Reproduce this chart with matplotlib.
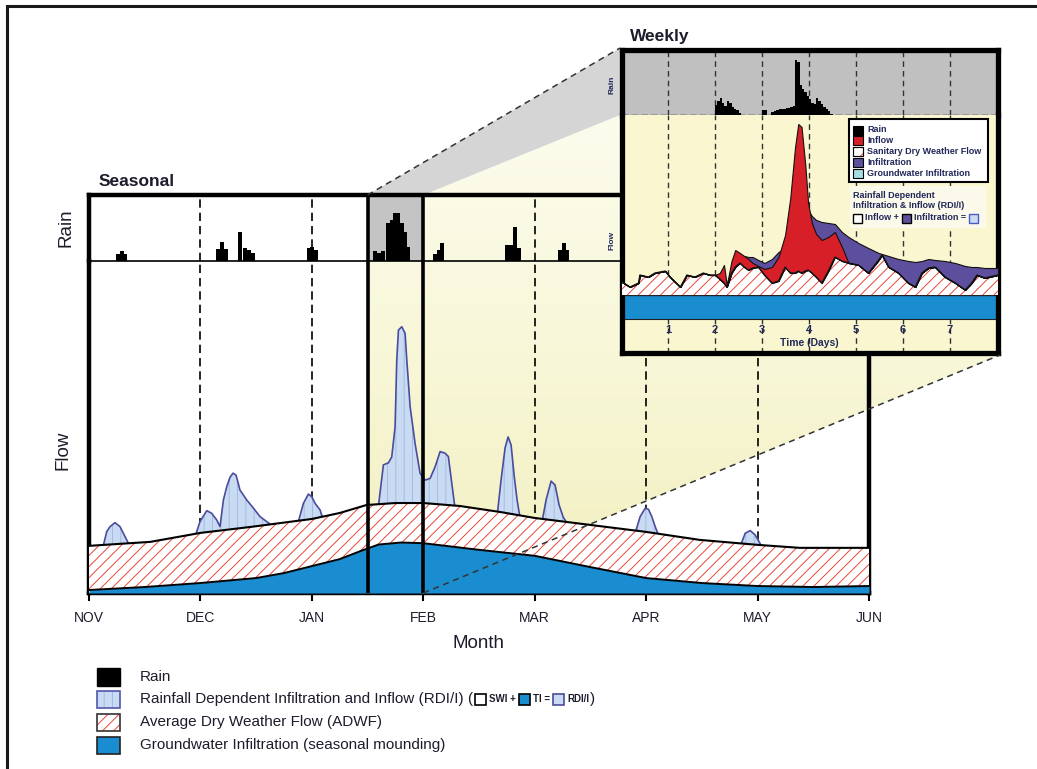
import numpy as np
import matplotlib
matplotlib.use('Agg')
import matplotlib.pyplot as plt
from matplotlib import font_manager as fm
from matplotlib.patches import Rectangle, Polygon
from matplotlib.colors import LinearSegmentedColormap

_names = {f.name for f in fm.fontManager.ttflist}
FONT = 'Liberation Sans Narrow' if 'Liberation Sans Narrow' in _names else 'Liberation Sans'
plt.rcParams['font.family'] = [FONT, 'DejaVu Sans']
plt.rcParams['hatch.linewidth'] = 0.7

# ---------------- DATA ----------------
month_labels = ['NOV', 'DEC', 'JAN', 'FEB', 'MAR', 'APR', 'MAY', 'JUN']

# seasonal rain (months since Nov 1, height)
rain_m = [0.242, 0.274, 0.305,
          1.140, 1.176, 1.212,
          1.338, 1.378, 1.414, 1.450,
          1.952, 1.984, 2.015,
          2.549, 2.585, 2.617,
          2.666, 2.697, 2.729, 2.756, 2.787, 2.814, 2.841,
          3.088, 3.119, 3.151,
          3.734, 3.770, 3.806, 3.837,
          4.210, 4.241, 4.273]
rain_v = [7, 10, 7,
          12, 19, 12,
          29, 13, 11, 8,
          13, 14, 11,
          10, 8, 10,
          38, 41, 48, 48, 38, 29, 14,
          7, 11, 18,
          16, 16, 34, 13,
          11, 18, 11]

# groundwater infiltration (seasonal mounding)
gw_m = [0.0, 0.5, 1.0, 1.5, 1.75, 2.0, 2.25, 2.45, 2.6, 2.8, 3.0, 3.5, 4.0, 4.5, 5.0, 5.5, 6.0, 6.5, 7.0]
gw_v = [0.9, 1.8, 3.0, 4.5, 6.0, 8.1, 10.2, 12.8, 14.6, 15.2, 15.0, 13.0, 11.2, 7.8, 4.5, 3.0, 2.1, 1.8, 2.1]

# average dry weather flow (top of layer)
adwf_m = [0.0, 0.55, 1.0, 1.45, 2.0, 2.25, 2.49, 2.75, 3.0, 3.33, 3.69, 4.0, 4.5, 5.0, 5.48, 6.0, 6.38, 7.0]
adwf_v = [14.2, 15.4, 18.1, 19.9, 22.3, 24.1, 26.5, 27.1, 27.1, 26.2, 24.4, 22.6, 20.5, 18.4, 16.0, 14.5, 13.6, 13.6]

# RDI/I peaks (total flow), NaN separates events
nan = np.nan
rdii_m = [0.123, 0.159, 0.189, 0.233, 0.278, 0.323, 0.368, nan,
          0.952, 0.996, 1.057, 1.101, 1.146, 1.176, 1.206, 1.236, 1.266, 1.293, 1.320, 1.355,
          1.416, 1.475, 1.535, 1.595, 1.655, nan,
          1.879, 1.924, 1.969, 1.999, 2.029, 2.074, 2.103, nan,
          2.597, 2.642, 2.687, 2.717, 2.747, 2.762, 2.777, 2.807, 2.837, 2.852, 2.882, 2.926,
          2.971, 3.016, 3.061, 3.106, 3.151, 3.196, 3.225, 3.256, 3.285, nan,
          3.662, 3.698, 3.734, 3.761, 3.788, 3.815, 3.842, 3.869, nan,
          4.066, 4.102, 4.147, 4.183, 4.219, 4.255, 4.291, nan,
          4.901, 4.946, 4.991, 5.021, 5.051, 5.081, 5.110, nan,
          5.844, 5.889, 5.934, 5.978, 6.038]
rdii_v = [13.5, 18.5, 20.0, 21.2, 20.0, 17.0, 14.0, nan,
          17.0, 21.5, 24.8, 24.0, 22.0, 20.0, 28.0, 32.0, 34.9, 36.1, 35.5, 31.0,
          28.0, 25.6, 23.0, 21.5, 20.0, nan,
          21.5, 27.0, 29.8, 29.0, 27.0, 25.0, 22.0, nan,
          26.0, 38.6, 39.2, 41.0, 50.1, 70.2, 79.2, 80.2, 78.2, 70.2, 56.1, 45.1,
          36.1, 34.0, 34.5, 38.0, 42.6, 42.1, 41.1, 33.0, 25.5, nan,
          23.0, 34.0, 43.7, 47.0, 44.6, 35.5, 28.0, 22.5, nan,
          21.5, 28.0, 33.7, 32.5, 26.5, 22.9, 21.0, nan,
          18.0, 23.0, 25.5, 25.2, 23.0, 20.0, 17.5, nan,
          14.0, 18.0, 18.8, 17.5, 14.0]

# weekly window
week_rain_t = [2.00, 2.05, 2.10, 2.15, 2.20, 2.25, 2.30, 2.35, 2.40, 2.45, 2.50,
               3.00, 3.05,
               3.20, 3.25, 3.30, 3.35, 3.40, 3.45, 3.50, 3.55, 3.60, 3.65, 3.70, 3.75,
               3.80, 3.85, 3.90, 3.95, 4.00, 4.05, 4.10, 4.15, 4.20, 4.25, 4.30, 4.35, 4.40, 4.45]
week_rain_v = [10, 14, 17, 12, 9, 14, 12, 8, 6, 5, 2,
               5, 5,
               3, 4, 5, 6, 6, 6, 7, 7, 8, 9, 54, 52,
               30, 26, 23, 19, 16, 12, 11, 17, 14, 11, 8, 6, 4, 1]

week_t = [0.02, 0.19, 0.37, 0.40, 0.58, 0.72, 0.94, 1.04, 1.26, 1.40,
          1.57, 1.75, 1.89, 2.00, 2.10, 2.19, 2.25, 2.35, 2.43, 2.53,
          2.62, 2.71, 2.80, 2.92, 3.05, 3.21, 3.35, 3.49, 3.60, 3.70,
          3.77, 3.84, 3.92, 3.98, 4.06, 4.15, 4.27, 4.41, 4.55, 4.70,
          4.84, 5.05, 5.26, 5.48, 5.55, 5.69, 5.90, 6.11, 6.26, 6.40,
          6.54, 6.68, 6.89, 7.11, 7.32, 7.46, 7.57, 7.74, 8.02]
week_dwf = [71, 66, 70, 78, 76, 80, 82, 76, 66, 78,
            76, 80, 78, 78, 74, 70, 66, 80, 86, 90,
            86, 83, 85, 86, 78, 70, 72, 86, 80, 80,
            82, 80, 82, 83, 80, 76, 70, 82, 96, 92,
            90, 88, 80, 93, 98, 86, 80, 70, 66, 80,
            85, 86, 76, 70, 63, 70, 78, 75, 78]
week_inflow_top = [71, 66, 70, 78, 76, 80, 82, 76, 66, 78,
                   76, 80, 78, 78, 80, 88, 68, 92, 103, 100,
                   97, 94, 90, 87, 84, 86, 96, 118, 155, 205,
                   229, 226, 188, 150, 130, 119, 113, 116, 121, 106,
                   90, 88, 80, 93, 98, 86, 80, 70, 66, 80,
                   85, 86, 76, 70, 63, 70, 78, 75, 78]
week_infil_top = [71, 66, 70, 78, 76, 80, 82, 76, 66, 78,
                  76, 80, 78, 78, 74, 70, 66, 80, 86, 96,
                  97, 96, 96, 93, 90, 94, 101, 105, 100, 100,
                  100, 110, 135, 143, 137, 133, 131, 130, 129, 121,
                  116, 110, 105, 100, 99, 97, 94, 92, 91, 92,
                  94, 93, 92, 90, 87, 86, 86, 85, 85]
week_gw_band = (34, 58)
day_labels = ['1', '2', '3', '4', '5', '6', '7']

# ---------------- COLORS ----------------
BLUE = '#1a8dd0'
RED_H = '#e8473c'
RDII_F = '#c9dbf3'
RDII_H = '#a4bbe5'
RDII_E = '#4a4c9c'
INFLOW = '#d71f27'
INFIL = '#5d4f9e'
TXT = '#1c1c2c'
NAVY = '#22285a'

W, H = 1037, 769
fig = plt.figure(figsize=(W / 100, H / 100), dpi=100, facecolor='white')


def box(x0, y0, x1, y1):
    return [x0 / W, 1 - y1 / H, (x1 - x0) / W, (y1 - y0) / H]


# background overlay
ax_bg = fig.add_axes([0, 0, 1, 1], zorder=0)
ax_bg.axis('off')

# main axes
ax_rain = fig.add_axes(box(89, 195, 869, 261), zorder=1)
ax_flow = fig.add_axes(box(89, 261, 869, 593), zorder=1)
for a in (ax_rain, ax_flow):
    a.set_facecolor('none')
    a.set_xlim(0, 7)
ax_rain.set_ylim(0, 66)
ax_flow.set_ylim(0, 100)

WIN = (2.5, 3.0)


def to_px(ax, x, y):
    d = ax.transData.transform((x, y))
    return d[0], H - d[1]


wx0, wtop = to_px(ax_rain, WIN[0], 66)
wx1, _ = to_px(ax_rain, WIN[1], 66)
_, wbot = to_px(ax_flow, WIN[1], 0)
ix0, iy0, ix1, iy1, irain = 620, 48, 1000, 355, 115

grey_poly = Polygon([(wx0, wtop), (ix0, iy0), (ix0, irain), (wx1, wtop)], closed=True,
                    facecolor='#d5d5d5', edgecolor='none')
ax_bg.add_patch(grey_poly)

yel_verts = [(wx0, wtop), (wx1, wtop), (ix0, irain), (ix0, iy1), (ix1, iy1), (wx1, wbot), (wx0, wbot)]
yel_poly = Polygon(yel_verts, closed=True, facecolor='none', edgecolor='none')
ax_bg.add_patch(yel_poly)
ycmap = LinearSegmentedColormap.from_list('yy', ['#fcfcee', '#f8f7d8', '#f2efbe'])
grad = np.linspace(0, 1, 256).reshape(-1, 1)
im = ax_bg.imshow(grad, cmap=ycmap, extent=(0, W, 600, 110), aspect='auto', origin='upper')
im.set_clip_path(yel_poly)
ax_bg.set_xlim(0, W); ax_bg.set_ylim(H, 0)

# inset axis labels (partly hidden behind inset border)
ax_bg.text(612, 85, 'Rain', rotation=90, ha='center', va='center', fontsize=6,
           fontweight='bold', color=NAVY)
ax_bg.text(612, 240, 'Flow', rotation=90, ha='center', va='center', fontsize=6,
           fontweight='bold', color=NAVY)

# ---- seasonal rain panel ----
ax_rain.axvspan(WIN[0], WIN[1], color='#c4c4c4', zorder=0, lw=0)
ax_rain.bar(rain_m, rain_v, width=0.036, align='edge', color='black', zorder=3, lw=0)
for m in [1, 2, 4, 5, 6]:
    ax_rain.axvline(m, color='black', lw=1.2, ls=(0, (5, 3)), zorder=1)
    ax_flow.axvline(m, color='black', lw=1.2, ls=(0, (5, 3)), zorder=1)
for xw in WIN:
    ax_rain.axvline(xw, color='black', lw=2.6, zorder=6)
    ax_flow.axvline(xw, color='black', lw=2.6, zorder=6)
ax_rain.set_xticks([]); ax_rain.set_yticks([])
for s in ['top', 'left', 'right']:
    ax_rain.spines[s].set_linewidth(3.2)
ax_rain.spines['bottom'].set_linewidth(1.2)

# ---- seasonal flow panel ----
ax_flow.fill_between(rdii_m, 0, rdii_v, facecolor=RDII_F, edgecolor=RDII_H, hatch='||',
                     lw=0, zorder=2)
ax_flow.plot(rdii_m, rdii_v, color=RDII_E, lw=1.2, zorder=2.2)
ax_flow.fill_between(adwf_m, 0, adwf_v, facecolor='white', edgecolor=RED_H, hatch='///',
                     lw=0, zorder=3)
ax_flow.plot(adwf_m, adwf_v, color='black', lw=1.5, zorder=3.5)
ax_flow.fill_between(gw_m, 0, gw_v, color=BLUE, lw=0, zorder=4)
ax_flow.plot(gw_m, gw_v, color='black', lw=1.4, zorder=4.5)
ax_flow.set_yticks([])
ax_flow.set_xticks(range(len(month_labels)))
ax_flow.set_xticklabels(month_labels, fontsize=10, color=TXT)
ax_flow.tick_params(axis='x', length=6, width=1.5, pad=7)
for s in ['bottom', 'left', 'right']:
    ax_flow.spines[s].set_linewidth(3.2)
ax_flow.spines['top'].set_visible(False)

# ---- weekly inset ----
ax_wr = fig.add_axes(box(622, 50, 998, 115), zorder=5)
ax_wf = fig.add_axes(box(622, 115, 998, 353), zorder=5)
for a in (ax_wr, ax_wf):
    a.set_xlim(0.02, 8.02)
    a.set_xticks([]); a.set_yticks([])
    for d in range(1, 8):
        a.axvline(d, color='#333333', lw=1.0, ls=(0, (4, 3)), zorder=1)
ax_wr.set_facecolor('#c0c0c0')
ax_wr.set_ylim(0, 64)
ax_wr.bar(week_rain_t, week_rain_v, width=0.05, align='edge', color='black', lw=0, zorder=3)
for s in ['top', 'left', 'right']:
    ax_wr.spines[s].set_linewidth(3.8)
ax_wr.spines['bottom'].set_linewidth(1.0)
ax_wr.spines['bottom'].set_linestyle((0, (4, 3)))

ax_wf.set_facecolor('#faf7d0')
ax_wf.set_ylim(0, 238)
ax_wf.axhspan(week_gw_band[0], week_gw_band[1], color=BLUE, zorder=2, lw=0)
ax_wf.axhline(week_gw_band[0], color='#222', lw=0.8, zorder=2.1)
ax_wf.axhline(week_gw_band[1], color='#222', lw=1.0, zorder=2.1)
ax_wf.fill_between(week_t, week_gw_band[1], week_dwf, facecolor='white', edgecolor=RED_H,
                   hatch='///', lw=0, zorder=3)
ax_wf.fill_between(week_t, week_dwf, week_infil_top, facecolor=INFIL, edgecolor='#111',
                   lw=0.8, zorder=4)
ax_wf.fill_between(week_t, week_dwf, week_inflow_top, facecolor=INFLOW, edgecolor='#111',
                   lw=0.8, zorder=5)
ax_wf.plot(week_t, week_dwf, color='#111', lw=0.9, zorder=6)
for i, lab in enumerate(day_labels):
    ax_wf.text(i + 1, 23, lab, ha='center', va='center', fontsize=8, fontweight='bold',
               color=NAVY, zorder=7)
ax_wf.text(4, 10, 'Time (Days)', ha='center', va='center', fontsize=7.5, fontweight='bold',
           color=NAVY, zorder=7)
for s in ['bottom', 'left', 'right']:
    ax_wf.spines[s].set_linewidth(3.8)
ax_wf.spines['top'].set_visible(False)

# ---------------- foreground overlay ----------------
ax_fg = fig.add_axes([0, 0, 1, 1], zorder=10)
ax_fg.set_xlim(0, W); ax_fg.set_ylim(H, 0); ax_fg.axis('off')
ax_fg.patch.set_alpha(0)

# figure frame
ax_fg.plot([6.5, 6.5, W], [H, 5.5, 5.5], color='#1a1a1a', lw=2.2, solid_joinstyle='miter')

# projection dashed lines
ax_fg.plot([wx0, ix0], [wtop, iy0], color='#333', lw=1.1, ls=(0, (4, 3)))
ax_fg.plot([wx1, ix1], [wbot, iy1], color='#333', lw=1.1, ls=(0, (4, 3)))

# titles / labels
ax_fg.text(99, 181, 'Seasonal', fontsize=12.5, fontweight='bold', color=TXT, va='center', ha='left')
ax_fg.text(630, 37, 'Weekly', fontsize=12.5, fontweight='bold', color=TXT, va='center', ha='left')
ax_fg.text(66, 228, 'Rain', fontsize=13.5, rotation=90, color=TXT, va='center', ha='center')
ax_fg.text(63, 450, 'Flow', fontsize=13.5, rotation=90, color=TXT, va='center', ha='center')
ax_fg.text(479, 643, 'Month', fontsize=13.5, color=TXT, va='center', ha='center')

# inset legend
ax_fg.add_patch(Rectangle((849, 119), 139, 63, facecolor='white', edgecolor='black', lw=1.5))
leg_items = [('Rain', dict(facecolor='black')),
             ('Inflow', dict(facecolor=INFLOW)),
             ('Sanitary Dry Weather Flow', dict(facecolor='white', hatch='//')),
             ('Infiltration', dict(facecolor=INFIL)),
             ('Groundwater Infiltration', dict(facecolor='#a6dde2'))]
for k, (lab, kw) in enumerate(leg_items):
    yc = 130 + k * 10.8
    ec = RED_H if 'hatch' in kw else 'black'
    ax_fg.add_patch(Rectangle((853, yc - 4.5), 10, 9, edgecolor=ec, lw=0.8, **kw))
    if 'hatch' in kw:
        ax_fg.add_patch(Rectangle((853, yc - 4.5), 10, 9, facecolor='none', edgecolor='black', lw=0.8))
    ax_fg.text(867, yc, lab, fontsize=6.5, fontweight='bold', color=NAVY, va='center', ha='left')
ax_fg.add_patch(Rectangle((850, 186), 136, 42, facecolor='#fbfaea', edgecolor='none'))
ax_fg.text(853, 195, 'Rainfall Dependent', fontsize=6.5, fontweight='bold', color=NAVY, va='center')
ax_fg.text(853, 206, 'Infiltration & Inflow (RDI/I)', fontsize=6.5, fontweight='bold', color=NAVY, va='center')

fig.canvas.draw()
R = fig.canvas.get_renderer()


def seq(items, x, yc):
    for kind, a, b in items:
        if kind == 'box':
            s, kw = a, b
            ax_fg.add_patch(Rectangle((x, yc - s / 2), s, s, **kw))
            x += s + 3
        else:
            t = ax_fg.text(x, yc, a, va='center', ha='left', color=b.get('color', TXT),
                           fontsize=b['fs'], fontweight=b.get('fw', 'normal'))
            bb = t.get_window_extent(R)
            x = bb.x1 + b.get('gap', 3)
    return x


seq([('box', 9, dict(facecolor='white', edgecolor='black', lw=1.0)),
     ('text', 'Inflow +', dict(fs=6.5, fw='bold', color=NAVY)),
     ('box', 9, dict(facecolor=INFIL, edgecolor='black', lw=1.0)),
     ('text', 'Infiltration =', dict(fs=6.5, fw='bold', color=NAVY)),
     ('box', 9, dict(facecolor=RDII_F, edgecolor='#4a5cc0', lw=1.0))], 853, 218)

# bottom legend
rows = [677, 699, 722, 745]
ax_fg.add_patch(Rectangle((97, rows[0] - 9), 23, 18, facecolor='black', edgecolor='black'))
ax_fg.add_patch(Rectangle((97, rows[1] - 8.5), 23, 17, facecolor=RDII_F, edgecolor=RDII_H, hatch='||', lw=0))
ax_fg.add_patch(Rectangle((97, rows[1] - 8.5), 23, 17, facecolor='none', edgecolor='#5356a8', lw=1.2))
ax_fg.add_patch(Rectangle((97, rows[2] - 8.5), 23, 17, facecolor='white', edgecolor=RED_H, hatch='///', lw=0))
ax_fg.add_patch(Rectangle((97, rows[2] - 8.5), 23, 17, facecolor='none', edgecolor='#333', lw=1.2))
ax_fg.add_patch(Rectangle((97, rows[3] - 8.5), 23, 17, facecolor=BLUE, edgecolor='#222', lw=1.2))

LFS = 11
ax_fg.text(140, rows[0], 'Rain', fontsize=LFS, color=TXT, va='center')
seq([('text', 'Rainfall Dependent Infiltration and Inflow (RDI/I) (', dict(fs=LFS, gap=2)),
     ('box', 11, dict(facecolor='white', edgecolor='black', lw=1.2)),
     ('text', 'SWI +', dict(fs=7, fw='bold', gap=3)),
     ('box', 11, dict(facecolor=BLUE, edgecolor='black', lw=1.2)),
     ('text', 'TI =', dict(fs=7, fw='bold', gap=3)),
     ('box', 11, dict(facecolor=RDII_F, edgecolor='#4a4c9c', lw=1.2)),
     ('text', 'RDI/I', dict(fs=7, fw='bold', gap=1)),
     ('text', ')', dict(fs=LFS))], 140, rows[1])
ax_fg.text(140, rows[2], 'Average Dry Weather Flow (ADWF)', fontsize=LFS, color=TXT, va='center')
ax_fg.text(140, rows[3], 'Groundwater Infiltration (seasonal mounding)', fontsize=LFS, color=TXT, va='center')

fig.savefig('out.png', dpi=100, facecolor='white')
